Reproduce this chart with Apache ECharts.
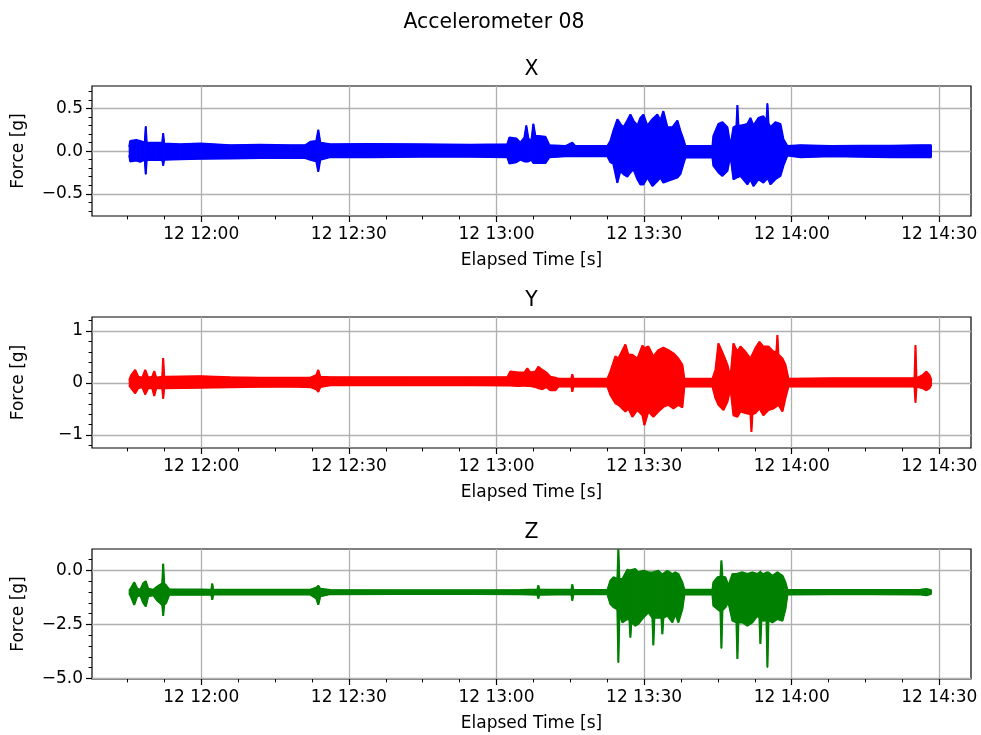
<!DOCTYPE html>
<html><head><meta charset="utf-8">
<script src="https://cdn.jsdelivr.net/npm/echarts@6/dist/echarts.min.js"></script>
<style>html,body{margin:0;padding:0;background:#fff}#c{width:981px;height:735px}</style>
</head><body><div id="c"></div>
<script>
// Time values: minutes after 11:45 on day 12. Each channel is an envelope (high / low) of the signal.
const xTime = [0.36,0.57,1.79,2.60,3.52,3.72,3.92,5.65,7.07,7.27,7.47,10.73,14.80,20.90,27.00,33.09,36.14,37.16,38.38,38.79,39.20,41.23,49.36,59.52,69.69,77.21,77.62,79.04,79.85,80.67,81.07,81.48,82.09,82.50,82.90,84.94,85.75,89.00,90.42,91.03,97.54,98.15,98.76,99.57,100.18,100.79,101.60,102.22,102.83,103.64,104.25,104.86,105.67,106.69,107.70,108.31,108.92,109.74,110.75,111.77,112.38,112.99,113.40,118.89,119.09,120.11,120.92,121.94,122.55,123.16,123.77,123.97,124.17,124.58,126.00,126.61,127.22,128.24,129.25,129.87,130.07,130.28,130.68,131.69,132.71,133.32,134.13,136.78,142.88,148.97,155.07,161.17,163.41];
const xHigh = [0.05,0.12,0.13,0.12,0.10,0.29,0.10,0.10,0.10,0.21,0.09,0.08,0.09,0.07,0.075,0.07,0.07,0.11,0.12,0.25,0.10,0.08,0.085,0.08,0.075,0.08,0.16,0.15,0.10,0.16,0.30,0.15,0.12,0.32,0.18,0.17,0.07,0.06,0.10,0.06,0.06,0.12,0.24,0.375,0.32,0.28,0.36,0.43,0.36,0.30,0.39,0.43,0.30,0.375,0.43,0.36,0.47,0.28,0.28,0.36,0.24,0.14,0.06,0.06,0.18,0.32,0.34,0.28,0.06,0.28,0.30,0.54,0.30,0.30,0.32,0.39,0.30,0.39,0.41,0.35,0.56,0.33,0.28,0.34,0.32,0.14,0.06,0.07,0.06,0.065,0.065,0.07,0.07];
const xLow = [-0.05,-0.12,-0.11,-0.125,-0.10,-0.27,-0.10,-0.105,-0.10,-0.17,-0.10,-0.095,-0.09,-0.085,-0.08,-0.08,-0.08,-0.10,-0.12,-0.24,-0.10,-0.07,-0.07,-0.065,-0.065,-0.07,-0.145,-0.13,-0.10,-0.12,-0.125,-0.12,-0.10,-0.14,-0.145,-0.14,-0.07,-0.06,-0.06,-0.06,-0.06,-0.13,-0.15,-0.37,-0.23,-0.27,-0.30,-0.25,-0.21,-0.33,-0.39,-0.39,-0.31,-0.41,-0.35,-0.31,-0.37,-0.35,-0.33,-0.31,-0.27,-0.15,-0.075,-0.075,-0.17,-0.25,-0.29,-0.23,-0.05,-0.33,-0.31,-0.31,-0.31,-0.29,-0.39,-0.33,-0.41,-0.33,-0.37,-0.33,-0.31,-0.33,-0.39,-0.33,-0.29,-0.17,-0.05,-0.07,-0.06,-0.065,-0.07,-0.07,-0.07];

const yTime = [0.36,0.77,1.58,2.19,3.01,3.62,4.22,5.04,5.45,5.85,7.07,7.27,7.47,14.80,20.90,27.00,33.09,37.16,38.38,38.79,39.20,41.23,55.46,69.69,77.21,77.82,79.45,80.67,81.28,81.89,82.90,83.51,84.33,85.14,85.95,86.97,87.58,90.22,90.42,90.62,97.54,98.15,99.17,99.78,101.20,101.81,102.62,103.64,104.66,105.06,105.88,106.89,107.90,108.92,109.94,110.96,111.97,112.78,113.19,118.89,119.50,120.11,121.13,121.94,122.55,123.16,123.97,124.58,125.60,126.61,126.82,127.02,127.63,128.44,129.25,130.28,131.29,131.89,132.10,132.30,133.12,133.73,134.34,142.88,151.01,159.96,160.16,160.36,161.58,162.39,163.00,163.41];
const yHigh = [0.05,0.15,0.25,0.12,0.10,0.25,0.10,0.12,0.23,0.10,0.12,0.48,0.12,0.13,0.11,0.10,0.10,0.10,0.15,0.25,0.12,0.11,0.11,0.11,0.11,0.22,0.20,0.20,0.28,0.20,0.22,0.31,0.25,0.20,0.12,0.10,0.08,0.08,0.17,0.08,0.08,0.22,0.51,0.47,0.74,0.54,0.54,0.47,0.72,0.67,0.70,0.51,0.63,0.68,0.63,0.57,0.47,0.35,0.08,0.08,0.25,0.76,0.54,0.35,0.09,0.76,0.60,0.70,0.60,0.47,0.50,0.55,0.67,0.79,0.70,0.70,0.60,0.60,0.92,0.55,0.47,0.35,0.08,0.09,0.09,0.09,0.73,0.09,0.15,0.22,0.15,0.05];
const yLow = [-0.05,-0.10,-0.20,-0.10,-0.08,-0.22,-0.10,-0.10,-0.25,-0.10,-0.10,-0.30,-0.10,-0.09,-0.08,-0.075,-0.07,-0.08,-0.12,-0.17,-0.08,-0.045,-0.045,-0.045,-0.05,-0.05,-0.06,-0.05,-0.06,-0.06,-0.08,-0.10,-0.12,-0.08,-0.14,-0.14,-0.07,-0.07,-0.17,-0.07,-0.07,-0.23,-0.39,-0.42,-0.55,-0.49,-0.65,-0.52,-0.62,-0.81,-0.55,-0.65,-0.55,-0.46,-0.42,-0.49,-0.42,-0.47,-0.07,-0.07,-0.29,-0.42,-0.52,-0.36,-0.10,-0.62,-0.65,-0.55,-0.58,-0.60,-0.94,-0.60,-0.58,-0.49,-0.62,-0.52,-0.49,-0.45,-0.42,-0.42,-0.55,-0.29,-0.07,-0.07,-0.07,-0.07,-0.38,-0.07,-0.10,-0.14,-0.10,-0.03];

const zTime = [0.36,0.77,1.38,1.99,2.60,3.21,3.72,4.22,5.24,6.06,7.07,7.27,7.47,7.88,8.49,14.80,17.04,17.24,17.44,27.00,37.16,38.38,38.79,39.20,41.23,55.46,69.69,79.85,83.31,83.51,83.71,90.22,90.42,90.62,97.54,98.15,98.76,99.57,99.78,99.98,100.59,101.60,102.02,102.22,102.42,103.23,103.84,104.86,105.88,106.69,106.89,107.09,107.90,108.52,108.72,108.92,109.74,110.75,111.36,111.97,112.78,113.19,118.89,119.09,119.90,120.52,120.72,120.92,121.53,122.14,122.96,123.77,123.97,124.17,124.99,126.00,127.02,128.03,128.44,128.64,128.84,129.25,129.87,130.07,130.28,131.08,132.10,133.12,133.73,134.13,142.88,151.01,161.17,162.39,163.41];
const zHigh = [-0.95,-0.80,-0.55,-0.85,-0.90,-0.60,-0.50,-0.85,-0.90,-0.75,-0.60,0.30,-0.60,-0.70,-0.88,-0.89,-0.90,-0.62,-0.90,-0.90,-0.90,-0.80,-0.71,-0.85,-0.91,-0.92,-0.92,-0.91,-0.88,-0.70,-0.88,-0.90,-0.65,-0.90,-0.91,-0.48,-0.32,-0.40,0.98,-0.40,-0.40,0.03,0.00,-0.02,0.00,0.06,-0.09,-0.02,-0.09,-0.10,-0.17,-0.10,-0.02,-0.15,-0.25,-0.15,-0.02,-0.17,-0.09,-0.17,-0.56,-0.90,-0.90,-0.56,-0.32,-0.30,0.45,-0.30,-0.32,-0.71,-0.17,-0.17,-0.17,-0.17,-0.09,-0.17,-0.09,-0.17,-0.10,-0.02,-0.10,-0.17,-0.10,-0.09,-0.10,-0.25,-0.09,-0.25,-0.56,-0.90,-0.91,-0.91,-0.90,-0.86,-0.92];
const zLow = [-1.05,-1.25,-1.60,-1.20,-1.15,-1.50,-1.67,-1.20,-1.15,-1.40,-1.60,-2.10,-1.60,-1.50,-1.13,-1.13,-1.12,-1.36,-1.12,-1.12,-1.12,-1.30,-1.59,-1.20,-1.10,-1.09,-1.09,-1.10,-1.13,-1.30,-1.13,-1.11,-1.40,-1.11,-1.10,-1.56,-1.70,-1.80,-4.26,-2.00,-2.41,-2.25,-2.30,-3.10,-2.40,-2.56,-2.48,-2.18,-1.94,-2.20,-3.46,-2.20,-2.18,-2.20,-2.95,-2.20,-2.10,-2.41,-2.02,-2.41,-1.79,-1.12,-1.12,-1.64,-1.79,-1.90,-3.61,-1.85,-1.71,-1.48,-2.33,-2.40,-4.10,-2.40,-2.41,-2.56,-2.41,-2.10,-2.20,-3.41,-2.30,-2.33,-2.30,-4.49,-2.30,-2.41,-2.25,-2.33,-1.79,-1.12,-1.11,-1.11,-1.12,-1.15,-1.08];

// Axis ticks
const timeMin = -7.2, timeMax = 171.44;
const timeMajorTicks = [15, 45, 75, 105, 135, 165];
const timeMajorLabels = ['12 12:00', '12 12:30', '12 13:00', '12 13:30', '12 14:00', '12 14:30'];
const timeMinorTicks = [0, 7.5, 22.5, 30, 37.5, 52.5, 60, 67.5, 82.5, 90, 97.5, 112.5, 120, 127.5, 142.5, 150, 157.5];

const panelTitles = ['X', 'Y', 'Z'];
const panelColors = ['#0000ff', '#ff0000', '#008000'];
const yRanges = [[-0.761, 0.765], [-1.25, 1.268], [-5.03, 0.99]];
const yMajorTicks = [[-0.5, 0, 0.5], [-1, 0, 1], [-5, -2.5, 0]];
const yMajorLabels = [['\u22120.5', '0.0', '0.5'], ['\u22121', '0', '1'], ['\u22125.0', '\u22122.5', '0.0']];
const yMinorTicks = [
  [-0.7, -0.6, -0.4, -0.3, -0.2, -0.1, 0.1, 0.2, 0.3, 0.4, 0.6, 0.7],
  [-1.2, -0.8, -0.6, -0.4, -0.2, 0.2, 0.4, 0.6, 0.8, 1.2],
  [-4.5, -4, -3.5, -3, -2, -1.5, -1, -0.5, 0.5]
];

const channels = [[xTime, xHigh, xLow], [yTime, yHigh, yLow], [zTime, zHigh, zLow]];

const FONT = 'DejaVu Sans';
const gridBoxes = [
  {left: 92, top: 86, width: 879, height: 130},
  {left: 92, top: 317, width: 879, height: 131},
  {left: 92, top: 549, width: 879, height: 130}
];

function lookup(vals, labels, v) {
  for (let i = 0; i < vals.length; i++) if (Math.abs(vals[i] - v) < 1e-6) return labels[i];
  return '';
}

const grid = [], xAxis = [], yAxis = [], series = [], graphic = [];
gridBoxes.forEach((g, k) => {
  grid.push(Object.assign({show: true, borderColor: '#000', borderWidth: 1.2, backgroundColor: '#fff'}, g));
  xAxis.push({
    type: 'value', gridIndex: k, position: 'bottom', min: timeMin, max: timeMax,
    axisLine: {show: false, onZero: false},
    axisTick: {show: true, length: 6, customValues: timeMajorTicks, lineStyle: {color: '#000', width: 1.2}},
    axisLabel: {show: true, customValues: timeMajorTicks, margin: 10, color: '#000', fontFamily: FONT, fontSize: 17,
      formatter: v => lookup(timeMajorTicks, timeMajorLabels, v)},
    splitLine: {show: true, lineStyle: {color: '#b0b0b0', width: 1.3}}
  });
  xAxis.push({
    type: 'value', gridIndex: k, position: 'bottom', min: timeMin, max: timeMax,
    axisLine: {show: false, onZero: false}, axisLabel: {show: false}, splitLine: {show: false},
    axisTick: {show: true, length: 3.4, customValues: timeMinorTicks, lineStyle: {color: '#000', width: 1}}
  });
  yAxis.push({
    type: 'value', gridIndex: k, position: 'left', min: yRanges[k][0], max: yRanges[k][1],
    axisLine: {show: false, onZero: false},
    axisTick: {show: true, length: 6, customValues: yMajorTicks[k], lineStyle: {color: '#000', width: 1.2}},
    axisLabel: {show: true, customValues: yMajorTicks[k], margin: 9, color: '#000', fontFamily: FONT, fontSize: 17,
      formatter: v => lookup(yMajorTicks[k], yMajorLabels[k], v)},
    splitLine: {show: true, lineStyle: {color: '#b0b0b0', width: 1.3}}
  });
  yAxis.push({
    type: 'value', gridIndex: k, position: 'left', min: yRanges[k][0], max: yRanges[k][1],
    axisLine: {show: false, onZero: false}, axisLabel: {show: false}, splitLine: {show: false},
    axisTick: {show: true, length: 3.4, customValues: yMinorTicks[k], lineStyle: {color: '#000', width: 1}}
  });

  const [T, H, L] = channels[k];
  const color = panelColors[k];
  const quads = [];
  for (let i = 0; i < T.length - 1; i++) quads.push([T[i], H[i], L[i], T[i + 1], H[i + 1], L[i + 1]]);
  series.push({
    type: 'custom', xAxisIndex: 2 * k, yAxisIndex: 2 * k, data: quads, silent: true,
    encode: {x: [0, 3], y: [1, 2, 4, 5]},
    renderItem: (params, api) => {
      const a = api.coord([api.value(0), api.value(1)]);
      const b = api.coord([api.value(3), api.value(4)]);
      const c = api.coord([api.value(3), api.value(5)]);
      const d = api.coord([api.value(0), api.value(2)]);
      return {type: 'polygon', shape: {points: [a, b, c, d]}, style: {fill: color, stroke: color, lineWidth: 1}};
    }
  });
  series.push({type: 'line', xAxisIndex: 2 * k, yAxisIndex: 2 * k, showSymbol: false, symbol: 'none', silent: true,
    data: T.map((t, i) => [t, H[i]]), lineStyle: {color, width: 2}});
  series.push({type: 'line', xAxisIndex: 2 * k, yAxisIndex: 2 * k, showSymbol: false, symbol: 'none', silent: true,
    data: T.map((t, i) => [t, L[i]]), lineStyle: {color, width: 2}});

  const cx = g.left + g.width / 2;
  const cy = g.top + g.height / 2;
  graphic.push({type: 'text', x: cx, y: g.top - 16, style: {text: panelTitles[k], font: '20.4px "DejaVu Sans"', fill: '#000', textAlign: 'center', textVerticalAlign: 'middle', align: 'center', verticalAlign: 'middle'}});
  graphic.push({type: 'text', x: cx, y: g.top + g.height + 45, style: {text: 'Elapsed Time [s]', font: '17px "DejaVu Sans"', fill: '#000', textAlign: 'center', textVerticalAlign: 'middle', align: 'center', verticalAlign: 'middle'}});
  graphic.push({type: 'text', x: 19, y: cy, rotation: Math.PI / 2, style: {text: 'Force [g]', font: '17px "DejaVu Sans"', fill: '#000', textAlign: 'center', textVerticalAlign: 'middle', align: 'center', verticalAlign: 'middle'}});
});
graphic.push({type: 'text', x: 494, y: 23, style: {text: 'Accelerometer 08', font: '20.4px "DejaVu Sans"', fill: '#000', textAlign: 'center', textVerticalAlign: 'middle', align: 'center', verticalAlign: 'middle'}});

const chart = echarts.init(document.getElementById('c'), null, {renderer: 'canvas'});
chart.setOption({animation: false, backgroundColor: '#fff', grid, xAxis, yAxis, series, graphic});
</script>
</body></html>
